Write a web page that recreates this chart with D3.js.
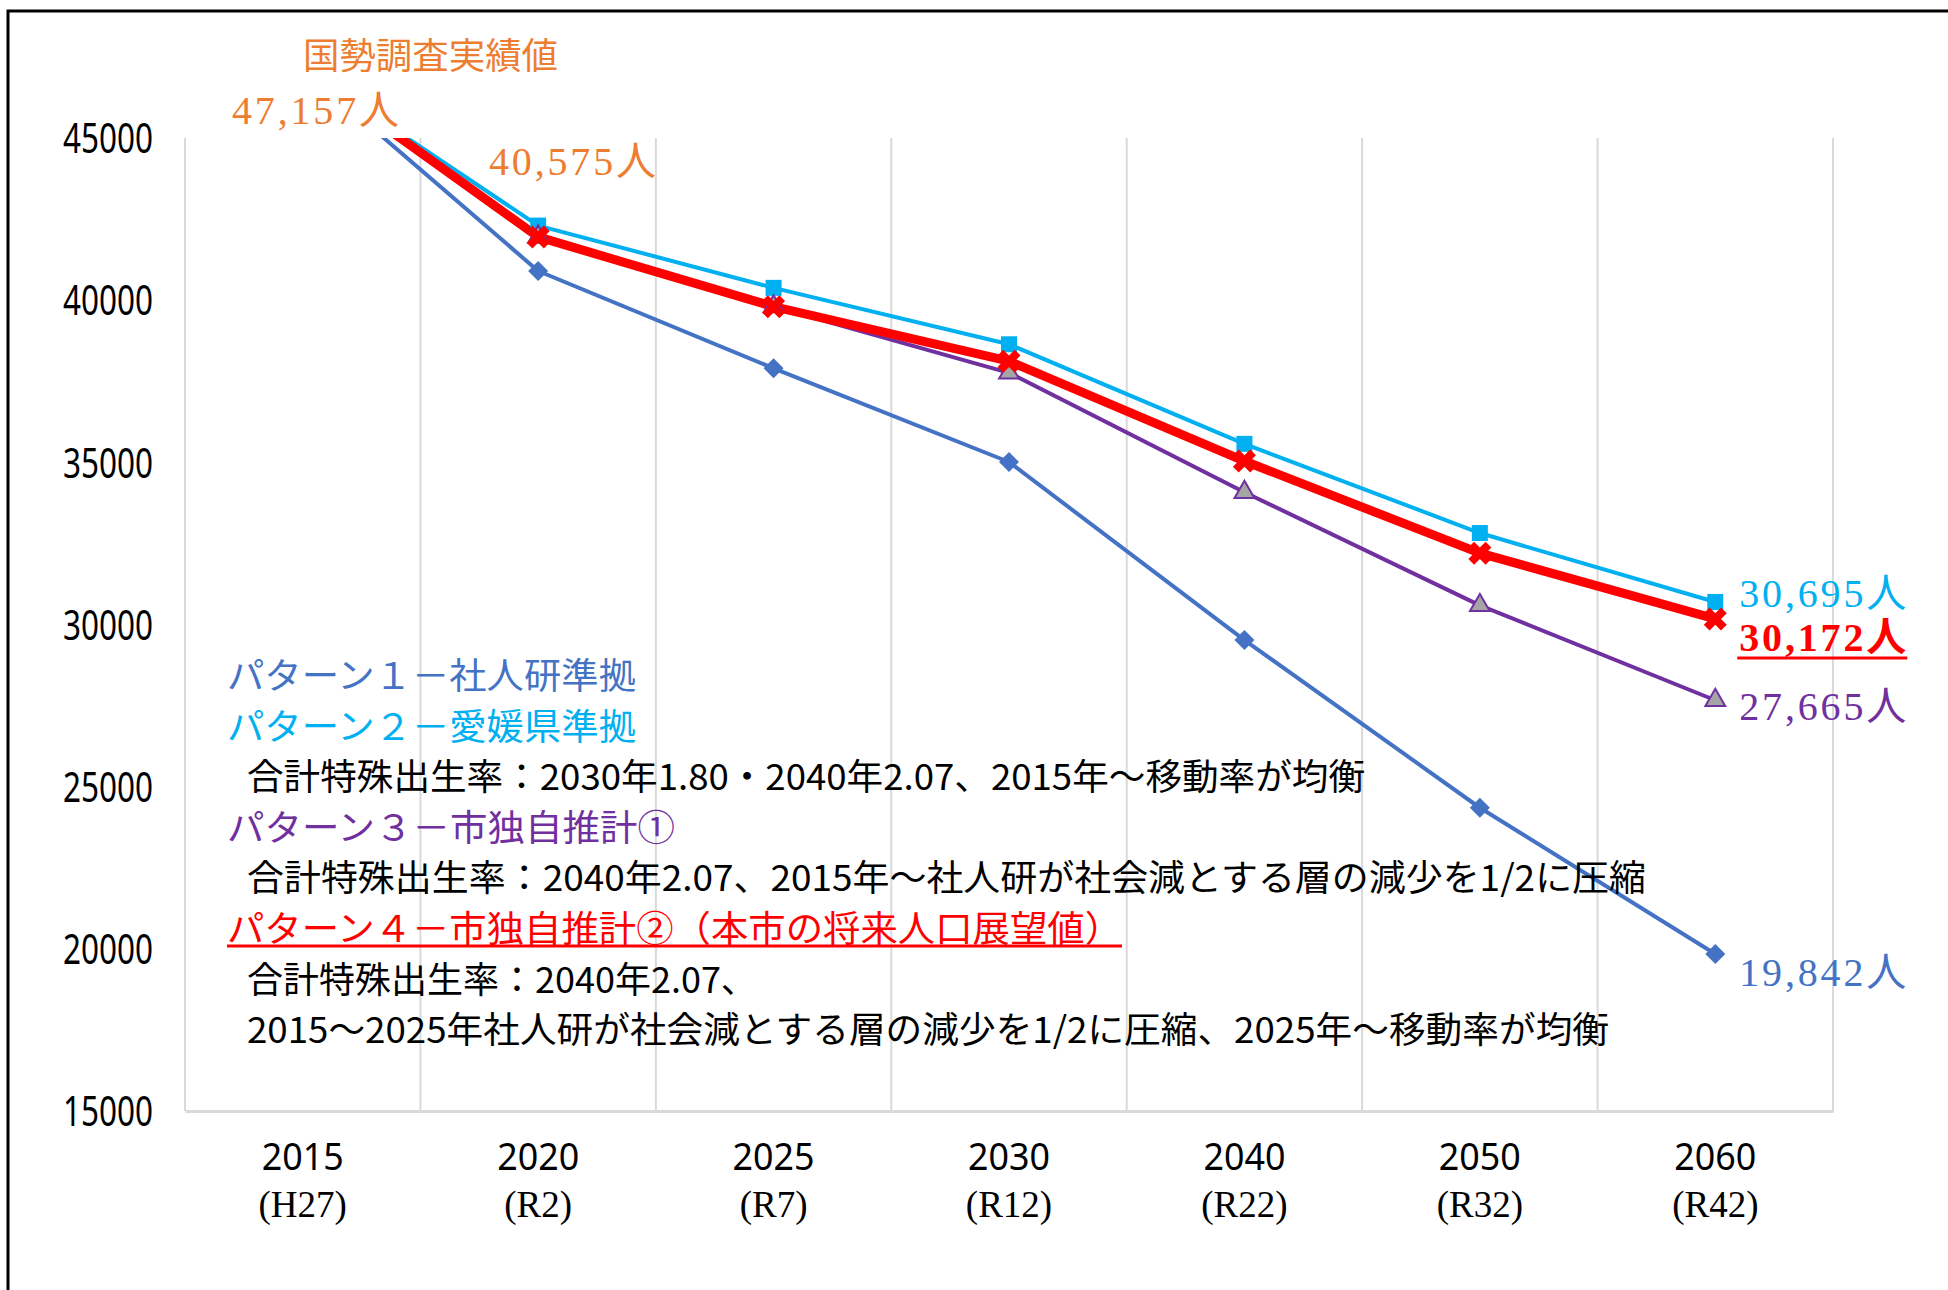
<!DOCTYPE html>
<html lang="ja">
<head>
<meta charset="utf-8">
<script src="https://cdn.jsdelivr.net/npm/d3@7"></script>
<style>
  body { margin: 0; background: #fff; }
  svg { display: block; }
</style>
</head>
<body>
<div id="chart"></div>
<script>
// categories
const years = ['2015', '2020', '2025', '2030', '2040', '2050', '2060'];
const eras = ['(H27)', '(R2)', '(R7)', '(R12)', '(R22)', '(R32)', '(R42)'];
const yTicks = [15000, 20000, 25000, 30000, 35000, 40000, 45000];

// series (people)
const pattern1 = [47157, 40900, 37900, 35010, 29520, 24350, 19842];
const pattern2 = [47157, 42300, 40380, 38640, 35570, 32820, 30695];
const pattern3 = [47157, 41950, 39800, 37760, 34080, 30590, 27665];
const pattern4 = [47157, 41950, 39800, 38120, 35040, 32200, 30172];
const censusValues = [47157, 40575];

const w = 1948, h = 1290;
const plotLeft = 185, plotRight = 1833, plotTop = 138, plotBottom = 1111;
const cjk = "'Noto Sans CJK JP', sans-serif";
const serif = "'Liberation Serif', 'Noto Sans CJK JP', serif";

const svg = d3.select('#chart').append('svg')
    .attr('width', w)
    .attr('height', h)
    .attr('font-family', cjk);

// outer frame
svg.append('path')
    .attr('d', `M8,${h} V11 H${w}`)
    .attr('fill', 'none')
    .attr('stroke', '#000')
    .attr('stroke-width', 3);

const x = d3.scaleBand().domain(years).range([plotLeft, plotRight]);
const y = d3.scaleLinear().domain([15000, 45000]).range([plotBottom, plotTop]);
const cx = d => x(d) + x.bandwidth() / 2;

// vertical gridlines at category boundaries
const gridX = years.map(d => x(d)).concat([plotRight]);
svg.append('g')
    .selectAll('line')
    .data(gridX)
    .enter()
    .append('line')
    .attr('x1', d => d).attr('x2', d => d)
    .attr('y1', plotTop).attr('y2', plotBottom)
    .attr('stroke', '#d9d9d9')
    .attr('stroke-width', 2);

// y axis
const yAxis = svg.append('g')
    .attr('transform', `translate(${plotLeft},0)`)
    .call(d3.axisLeft(y).tickValues(yTicks).tickSize(0).tickPadding(32).tickFormat(d3.format('d')));
yAxis.select('.domain').remove();
yAxis.selectAll('text')
    .attr('font-family', "'Noto Sans', sans-serif")
    .attr('font-size', 42)
    .attr('fill', '#000')
    .attr('dy', '0.35em')
    .attr('textLength', 90)
    .attr('lengthAdjust', 'spacingAndGlyphs');

// x axis
const xAxis = svg.append('g')
    .attr('transform', `translate(0,${plotBottom})`)
    .call(d3.axisBottom(x).tickSize(0));
xAxis.select('.domain')
    .attr('stroke', '#d9d9d9')
    .attr('stroke-width', 3);
xAxis.selectAll('.tick text')
    .attr('font-family', "'Noto Sans', sans-serif")
    .attr('font-size', 39)
    .attr('fill', '#000')
    .attr('y', 45)
    .attr('dy', '0.36em')
    .attr('textLength', 82)
    .attr('lengthAdjust', 'spacingAndGlyphs');
xAxis.selectAll('.tick')
    .append('text')
    .text((d, i) => eras[i])
    .attr('font-family', serif)
    .attr('font-size', 37)
    .attr('fill', '#000')
    .attr('text-anchor', 'middle')
    .attr('y', 94)
    .attr('dy', '0.33em');

// series
svg.append('clipPath').attr('id', 'plot-clip')
    .append('rect')
    .attr('x', plotLeft - 20).attr('y', plotTop)
    .attr('width', plotRight - plotLeft + 40).attr('height', plotBottom - plotTop + 20);

const series = [
    { values: pattern1, color: '#4472C4', width: 4, symbol: d3.symbolSquare, size: 200, rotate: 45, fill: '#4472C4' },
    { values: pattern2, color: '#00B0F0', width: 4, symbol: d3.symbolSquare, size: 256, rotate: 0, fill: '#00B0F0' },
    { values: pattern3, color: '#7030A0', width: 4, symbol: d3.symbolTriangle, size: 170, rotate: 0, fill: '#A5A5A5' },
    { values: pattern4, color: '#FF0000', width: 9, symbol: d3.symbolCross, size: 330, rotate: 45, fill: '#FF0000' }
];

const plot = svg.append('g').attr('clip-path', 'url(#plot-clip)');
const line = d3.line()
    .x((d, i) => cx(years[i]))
    .y(d => y(d));

series.forEach(s => {
    plot.append('path')
        .datum(s.values)
        .attr('d', line)
        .attr('fill', 'none')
        .attr('stroke', s.color)
        .attr('stroke-width', s.width)
        .attr('stroke-linejoin', 'round');
});
series.forEach(s => {
    plot.append('g')
        .selectAll('path')
        .data(s.values)
        .enter()
        .append('path')
        .attr('d', d3.symbol().type(s.symbol).size(s.size))
        .attr('transform', (d, i) => `translate(${cx(years[i])},${y(d)}) rotate(${s.rotate})`)
        .attr('fill', s.fill)
        .attr('stroke', s.symbol === d3.symbolTriangle ? s.color : 'none')
        .attr('stroke-width', 2);
});

// end labels
const fmt = d3.format(',');
const endOffsets = [18, -9, 6, 18];
const lastYear = years[years.length - 1];
series.forEach((s, i) => {
    const v = s.values[s.values.length - 1];
    svg.append('text')
        .text(fmt(v) + '人')
        .attr('x', cx(lastYear) + 24)
        .attr('y', y(v) + endOffsets[i])
        .attr('dy', '0.35em')
        .attr('font-family', serif)
        .attr('font-size', 40)
        .attr('font-weight', i === 3 ? 'bold' : 'normal')
        .attr('fill', s.color)
        .attr('textLength', 167)
        .attr('lengthAdjust', 'spacing');
    if (i === 3) {
        svg.append('line')
            .attr('x1', cx(lastYear) + 22).attr('x2', cx(lastYear) + 192)
            .attr('y1', y(v) + 39).attr('y2', y(v) + 39)
            .attr('stroke', s.color).attr('stroke-width', 3);
    }
});

// census labels
svg.append('text')
    .text('国勢調査実績値')
    .attr('x', 303).attr('y', 56).attr('dy', '0.35em')
    .attr('font-size', 36)
    .attr('fill', '#ED7D31')
    .attr('textLength', 255)
    .attr('lengthAdjust', 'spacingAndGlyphs');
const censusPos = [[232, 110], [489, 161]];
censusValues.forEach((v, i) => {
    svg.append('text')
        .text(fmt(v) + '人')
        .attr('x', censusPos[i][0]).attr('y', censusPos[i][1]).attr('dy', '0.35em')
        .attr('font-family', serif)
        .attr('font-size', 40)
        .attr('fill', '#ED7D31')
        .attr('textLength', 167)
        .attr('lengthAdjust', 'spacing');
});

// notes block
const notes = [
    { text: 'パターン１－社人研準拠', color: '#4472C4', x: 227, len: 409 },
    { text: 'パターン２－愛媛県準拠', color: '#00B0F0', x: 227, len: 409 },
    { text: '合計特殊出生率：2030年1.80・2040年2.07、2015年～移動率が均衡', color: '#000', x: 247, len: 1118 },
    { text: 'パターン３－市独自推計①', color: '#7030A0', x: 227, len: 448 },
    { text: '合計特殊出生率：2040年2.07、2015年～社人研が社会減とする層の減少を1/2に圧縮', color: '#000', x: 247, len: 1399 },
    { text: 'パターン４－市独自推計②（本市の将来人口展望値）', color: '#FF0000', x: 227, len: 895, underline: true },
    { text: '合計特殊出生率：2040年2.07、', color: '#000', x: 247, len: 0 },
    { text: '2015～2025年社人研が社会減とする層の減少を1/2に圧縮、2025年～移動率が均衡', color: '#000', x: 247, len: 1362 }
];
notes.forEach((n, i) => {
    const ty = 676 + i * 50.6;
    const t = svg.append('text')
        .text(n.text)
        .attr('x', n.x).attr('y', ty).attr('dy', '0.36em')
        .attr('font-size', 36)
        .attr('fill', n.color);
    if (n.len) t.attr('textLength', n.len).attr('lengthAdjust', 'spacingAndGlyphs');
    if (n.underline) {
        svg.append('line')
            .attr('x1', n.x).attr('x2', n.x + n.len)
            .attr('y1', ty + 17).attr('y2', ty + 17)
            .attr('stroke', n.color).attr('stroke-width', 3);
    }
});
</script>
</body>
</html>
